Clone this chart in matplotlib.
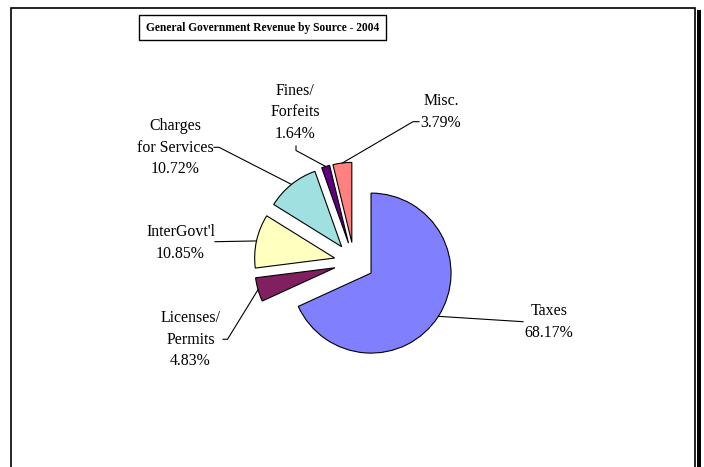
import math
import matplotlib
matplotlib.use("Agg")
import matplotlib.pyplot as plt
from matplotlib.patches import Rectangle

# revenue sources, 2004 (percent of total)
sources = ["Taxes", "Licenses/\nPermits", "InterGovt'l", "Charges\nfor Services", "Fines/\nForfeits", "Misc."]
shares = [68.17, 4.83, 10.85, 10.72, 1.64, 3.79]
fills = ["#8080FF", "#802060", "#FFFFC0", "#A0E0E0", "#600080", "#FF8080"]

W, H = 704, 467

# label centres and leader-line starts, in pixel coords (y down)
label_xy = [(549, 322), (190.5, 339.5), (180.5, 243), (175, 147.5), (295, 112.5), (441, 112)]
leader_start = [
    [(523, 321.7)],
    [(223, 339.3), (227.5, 339.3)],
    [(215, 241.7)],
    [(214, 147.3), (219, 147.3)],
    [(296, 146), (296, 150.5)],
    [(419, 121.7), (413, 121.7)],
]

plt.rcParams["font.family"] = ["Liberation Serif", "DejaVu Serif"]

fig = plt.figure(figsize=(W / 100, H / 100), dpi=100)
ax = fig.add_axes([0, 0, 1, 1])

wedges, _ = ax.pie(shares, colors=fills, startangle=90, counterclock=False,
                   explode=[20] * len(shares), radius=80, center=(354.2, H - 262.3),
                   wedgeprops=dict(edgecolor="black", linewidth=0.8), frame=True)
ax.set_xlim(0, W)
ax.set_ylim(0, H)
ax.axis("off")

for w, name, val, (lx, ly), pts in zip(wedges, sources, shares, label_xy, leader_start):
    mid = math.radians((w.theta1 + w.theta2) / 2)
    cx, cy = w.center
    ex, ey = cx + w.r * math.cos(mid), cy + w.r * math.sin(mid)
    xs = [p[0] for p in pts] + [ex]
    ys = [H - p[1] for p in pts] + [ey]
    ax.plot(xs, ys, color="black", lw=0.8)
    ax.text(lx, H - ly, f"{name}\n{val:.2f}%", ha="center", va="center",
            multialignment="center", fontsize=11.4, linespacing=1.45)

ax.text(262.5, H - 27.5, "General Government Revenue by Source - 2004", ha="center", va="center",
        fontsize=8.3, fontweight="bold",
        bbox=dict(boxstyle="square,pad=0.6", facecolor="white", edgecolor="black", linewidth=1))

# chart area frame with shadow on the right
ax.add_patch(Rectangle((696.5, -10), 4, H - 10 + 10, facecolor="black", edgecolor="none", clip_on=False))
ax.add_patch(Rectangle((10.5, -10), 684, H - 8 + 10, facecolor="none", edgecolor="black", linewidth=1.2, clip_on=False))

fig.savefig("out.png", dpi=100)
